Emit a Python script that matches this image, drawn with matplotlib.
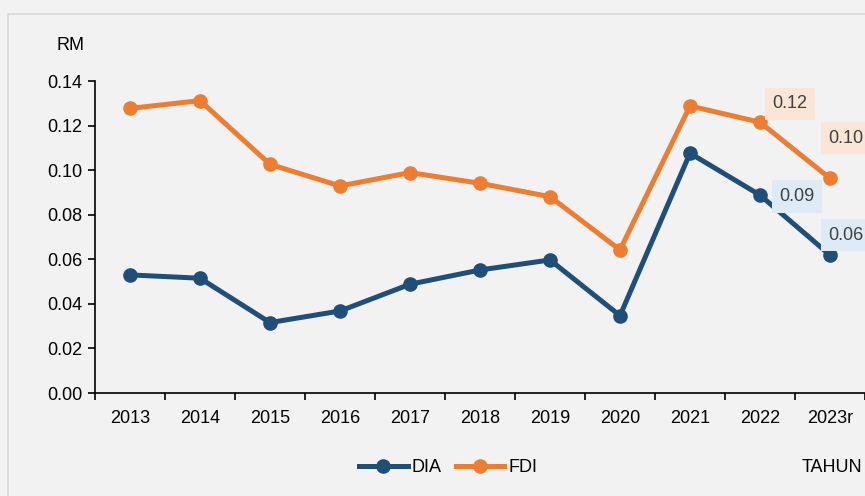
import matplotlib.pyplot as plt
from matplotlib.patches import Rectangle
import numpy as np

plt.rcParams['font.family'] = ['Liberation Sans', 'DejaVu Sans']

years = ['2013', '2014', '2015', '2016', '2017', '2018', '2019', '2020', '2021', '2022', '2023r']
dia = [0.0530, 0.0515, 0.0316, 0.0368, 0.0488, 0.0552, 0.0597, 0.0347, 0.1076, 0.0888, 0.0619]
fdi = [0.1277, 0.1312, 0.1026, 0.0929, 0.0989, 0.0941, 0.0881, 0.0642, 0.1288, 0.1215, 0.0963]
yticks = [0.00, 0.02, 0.04, 0.06, 0.08, 0.10, 0.12, 0.14]

# labelled points: (index, text, offset in points)
dia_labels = [(9, '0.09', (26.6, -1)), (10, '0.06', (11.5, 14.4))]
fdi_labels = [(9, '0.12', (21.6, 13.3)), (10, '0.10', (11.5, 28.8))]

c_dia = '#1f4e79'
c_fdi = '#ed7d31'
bg = '#f2f2f2'
fs = 13

fig = plt.figure(figsize=(8.65, 4.96), dpi=100, facecolor=bg)
fig.patches.append(Rectangle((8 / 865, -0.1), 1.1, 1 - 14 / 496 + 0.1, transform=fig.transFigure,
                             facecolor='none', edgecolor='#d9d9d9', lw=1.2))
ax = fig.add_axes([95 / 865, 1 - 393 / 496, 1 - 95 / 865, (393 - 81) / 496])
ax.set_facecolor(bg)

x = np.arange(len(years))
ax.plot(x, dia, color=c_dia, lw=3.6, marker='o', ms=9.5, label='DIA', clip_on=False)
ax.plot(x, fdi, color=c_fdi, lw=3.6, marker='o', ms=9.5, label='FDI', clip_on=False)

for vals, labels, fc in [(dia, dia_labels, '#deebf7'), (fdi, fdi_labels, '#fbe5d6')]:
    for i, txt, off in labels:
        ax.annotate(txt, (x[i], vals[i]), xytext=off, textcoords='offset points',
                    ha='center', va='center', fontsize=fs, color='#404040',
                    bbox=dict(boxstyle='square,pad=0.42', fc=fc, ec='none'),
                    annotation_clip=False)

ax.set_xlim(-0.5, len(years) - 0.5)
ax.set_ylim(0, 0.14)
ax.set_yticks(yticks)
ax.set_yticklabels([f'{v:.2f}' for v in yticks], fontsize=fs)
ax.set_xticks(np.arange(-0.5, len(years)), labels=[])
ax.set_xticks(x, labels=years, minor=True)
ax.tick_params(axis='x', which='minor', length=0, labelsize=fs, pad=12)
ax.tick_params(axis='both', which='major', length=5, width=1.2, direction='out')
ax.tick_params(axis='y', pad=4)
for s in ['top', 'right']:
    ax.spines[s].set_visible(False)
for s in ['left', 'bottom']:
    ax.spines[s].set_linewidth(1.2)

fig.text(70 / 865, 1 - 45 / 496, 'RM', fontsize=fs, ha='center', va='center')
fig.text(802 / 865, 1 - 468 / 496, 'TAHUN', fontsize=fs, ha='left', va='center')
fig.legend(loc='center', bbox_to_anchor=(448 / 865, 1 - 468 / 496), ncol=2, frameon=False,
           fontsize=fs, handlelength=2.7, columnspacing=0.8, handletextpad=0.2)

fig.savefig('out.png', dpi=100, facecolor=bg)
